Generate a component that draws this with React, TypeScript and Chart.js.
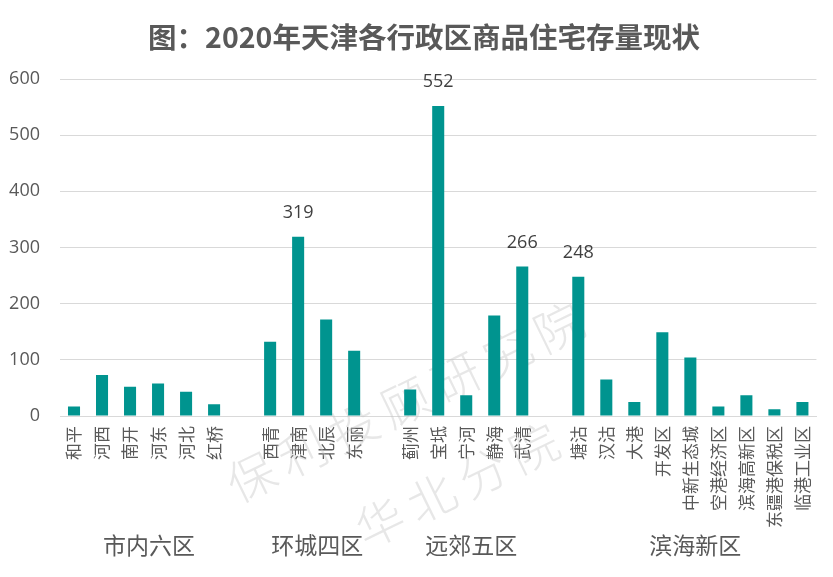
import React, { useEffect, useRef } from "react";
import { Chart, registerables } from "chart.js";

Chart.register(...registerables);

const titleText = "图：2020年天津各行政区商品住宅存量现状";

const districts = [
  "和平", "河西", "南开", "河东", "河北", "红桥", "",
  "西青", "津南", "北辰", "东丽", "",
  "蓟州", "宝坻", "宁河", "静海", "武清", "",
  "塘沽", "汉沽", "大港", "开发区", "中新生态城", "空港经济区", "滨海高新区", "东疆港保税区", "临港工业区",
];

const stock = [
  17, 73, 52, 58, 43, 21, null,
  132, 319, 172, 116, null,
  47, 552, 37, 179, 266, null,
  248, 65, 25, 149, 104, 17, 37, 12, 25,
];

const labelledDistricts = ["津南", "宝坻", "武清", "塘沽"];

const groupNames = ["市内六区", "环城四区", "远郊五区", "滨海新区"];
const groupFirst = ["和平", "西青", "蓟州", "塘沽"];
const groupLast = ["红桥", "东丽", "武清", "临港工业区"];

const yTicks = [0, 100, 200, 300, 400, 500, 600];

const watermarkLines = ["保利投顾研究院", "华北分院"];

const FONT = '"Open Sans", "Noto Sans CJK SC", sans-serif';
const CJK = '"Noto Sans CJK SC", sans-serif';
const GREY = "#595959";
const BAR = "#00948F";

export default function App() {
  const ref = useRef<HTMLCanvasElement | null>(null);

  useEffect(() => {
    document.body.style.margin = "0";
    const canvas = ref.current;
    if (!canvas) return;

    const titleDraw = {
      id: "titleDraw",
      afterDraw(chart: any) {
        const ctx = chart.ctx;
        ctx.save();
        ctx.fillStyle = GREY;
        ctx.font = `bold 28.5px ${CJK}`;
        ctx.textAlign = "center";
        ctx.textBaseline = "middle";
        ctx.fillText(titleText, 424, 37);
        ctx.restore();
      },
    };

    const watermark = {
      id: "watermark",
      beforeDatasetsDraw(chart: any) {
        const ctx = chart.ctx;
        ctx.save();
        ctx.fillStyle = "rgba(195,195,195,0.4)";
        ctx.font = `200 48px ${CJK}`;
        ctx.textAlign = "center";
        ctx.textBaseline = "middle";
        const centers = [
          [405, 402],
          [457, 485],
        ];
        watermarkLines.forEach((line, i) => {
          ctx.save();
          ctx.translate(centers[i][0], centers[i][1]);
          ctx.rotate((-26 * Math.PI) / 180);
          const chars = Array.from(line);
          const step = 57;
          chars.forEach((c, k) => {
            ctx.fillText(c, (k - (chars.length - 1) / 2) * step, 0);
          });
          ctx.restore();
        });
        ctx.restore();
      },
    };

    const extras = {
      id: "extras",
      afterDatasetsDraw(chart: any) {
        const ctx = chart.ctx;
        const meta = chart.getDatasetMeta(0);
        ctx.save();
        ctx.fillStyle = "#404040";
        ctx.font = `18px ${FONT}`;
        ctx.textAlign = "center";
        ctx.textBaseline = "middle";
        districts.forEach((d, i) => {
          if (labelledDistricts.includes(d) && stock[i] != null) {
            const el = meta.data[i];
            ctx.fillText(String(stock[i]), el.x, el.y - 24);
          }
        });
        const xs = chart.scales.x;
        ctx.fillStyle = GREY;
        ctx.font = `23px ${CJK}`;
        groupNames.forEach((g, i) => {
          const a = xs.getPixelForValue(districts.indexOf(groupFirst[i]));
          const b = xs.getPixelForValue(districts.indexOf(groupLast[i]));
          ctx.fillText(g, (a + b) / 2 + 5, 545);
        });
        ctx.restore();
      },
    };

    const chart = new Chart(canvas, {
      type: "bar",
      data: {
        labels: districts,
        datasets: [
          {
            data: stock as any,
            backgroundColor: BAR,
            borderWidth: 0,
            categoryPercentage: 1,
            barPercentage: 0.43,
          },
        ],
      },
      options: {
        animation: false,
        responsive: true,
        maintainAspectRatio: false,
        layout: { padding: { left: 0, right: 10, top: 79, bottom: 0 } },
        plugins: {
          legend: { display: false },
          tooltip: { enabled: false },
          title: { display: false },
        },
        scales: {
          x: {
            grid: { display: false, drawTicks: false },
            border: { display: true, color: "#d9d9d9", width: 1 },
            ticks: {
              color: GREY,
              font: { family: CJK, size: 17 },
              maxRotation: 90,
              minRotation: 90,
              autoSkip: false,
              padding: 10,
            },
            afterFit(scale: any) {
              scale.height = 161;
            },
          },
          y: {
            min: 0,
            max: 600,
            afterBuildTicks(scale: any) {
              scale.ticks = yTicks.map((v) => ({ value: v }));
            },
            grid: { color: "#d9d9d9", lineWidth: 1, drawTicks: false },
            border: { display: false },
            ticks: {
              color: GREY,
              font: { family: FONT, size: 18 },
              padding: 20,
            },
            afterFit(scale: any) {
              scale.width = 60;
            },
          },
        },
      },
      plugins: [watermark, extras, titleDraw],
    });

    return () => chart.destroy();
  }, []);

  return (
    <div style={{ position: "absolute", left: 0, top: 0, width: 833, height: 577, background: "#fff" }}>
      <canvas ref={ref} />
    </div>
  );
}
